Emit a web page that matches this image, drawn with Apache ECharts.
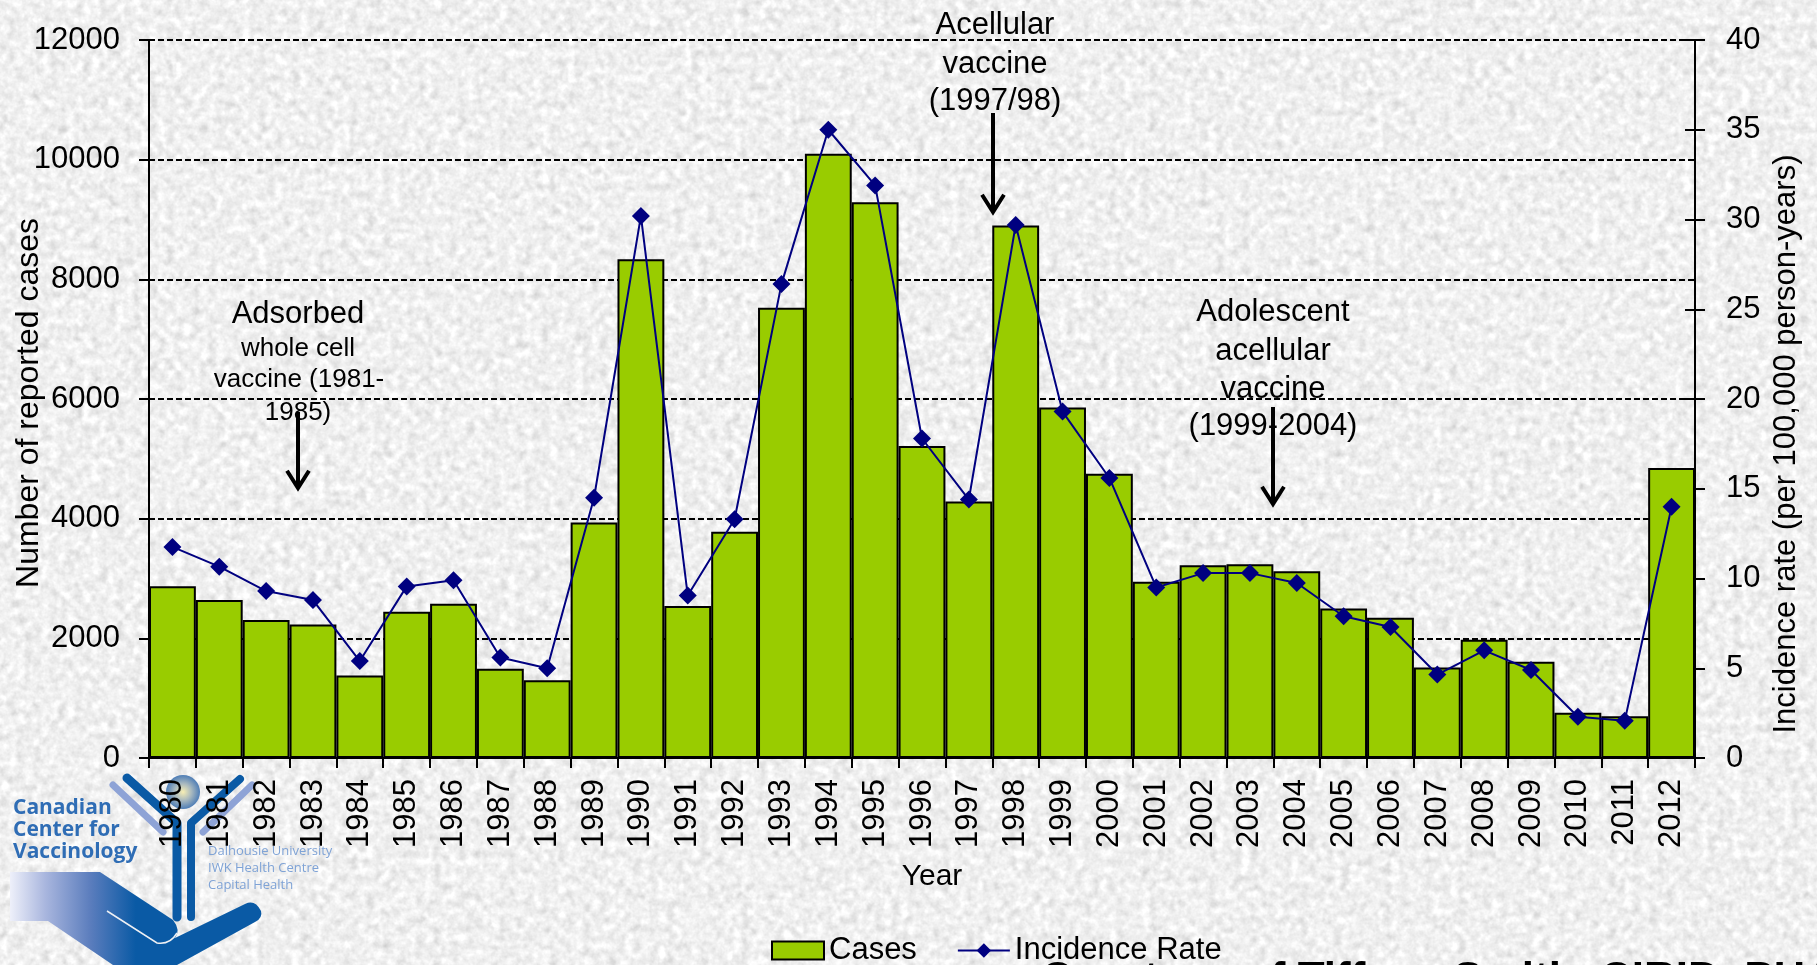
<!DOCTYPE html>
<html><head><meta charset="utf-8">
<style>
html,body{margin:0;padding:0;width:1817px;height:965px;overflow:hidden;background-color:#ececec;}
#bg{position:absolute;left:0;top:0;}
#chart{position:absolute;left:0;top:0;width:1817px;height:965px;}
</style>
<script src="https://cdn.jsdelivr.net/npm/echarts@6/dist/echarts.min.js"></script>
</head><body>
<svg id="bg" width="1817" height="965" xmlns="http://www.w3.org/2000/svg">
<filter id="speckle" x="0" y="0" width="100%" height="100%" color-interpolation-filters="sRGB">
<feTurbulence type="fractalNoise" baseFrequency="0.12" numOctaves="3" seed="7"/>
<feColorMatrix type="matrix" values="0.17 0.17 0 0 0.77  0.17 0.17 0 0 0.77  0.17 0.17 0 0 0.77  0 0 0 0 1"/>
</filter>
<rect width="1817" height="965" filter="url(#speckle)"/>
</svg>
<div id="chart"></div>
<script>
const years = ['1980','1981','1982','1983','1984','1985','1986','1987','1988','1989','1990','1991','1992','1993','1994','1995','1996','1997','1998','1999','2000','2001','2002','2003','2004','2005','2006','2007','2008','2009','2010','2011','2012'];
const cases = [2870,2640,2307,2230,1377,2443,2579,1493,1300,3936,8337,2540,3781,7523,10100,9290,5216,4285,8900,5856,4750,2947,3220,3238,3120,2500,2346,1512,1978,1610,756,698,4847];
const incidenceRate = [11.76,10.66,9.3,8.8,5.4,9.56,9.9,5.6,5.0,14.5,30.2,9.05,13.3,26.4,35.0,31.9,17.8,14.4,29.7,19.3,15.6,9.5,10.3,10.3,9.75,7.9,7.3,4.65,6.0,4.9,2.3,2.07,14.0];

const FONT = '"Liberation Sans", Arial, sans-serif';
const BLUE = '#0a5aa5';

echarts.graphic.registerShape('logoHand', echarts.graphic.extendPath('M10 872 L100 872 L173 920 Q181 930 175 938 L245 904 Q255 899 261 911 Q263 918 255 922 L177 965 L113 965 L48 921 L10 921 Z'));
echarts.graphic.registerShape('logoSlit', echarts.graphic.extendPath('M107 911 L157 943 Q170 945 177 933'));

function label(text, x, y, size) {
  return {type:'text', z:50, x:x, y:y+2, style:{text:text, fill:'#000', font:size+'px '+FONT, align:'center', verticalAlign:'middle'}};
}
function logoText(text, x, y, font, color) {
  return {type:'text', z:-2, x:x, y:y, style:{text:text, fill:color, font:font, verticalAlign:'middle'}};
}
function arrow(x, y0, y1, wing) {
  return [
    {type:'line', z:60, shape:{x1:x,y1:y0,x2:x,y2:y1-2}, style:{stroke:'#000',lineWidth:4}},
    {type:'polyline', z:60, shape:{points:[[x-wing,y1-wing*1.75],[x,y1-2],[x+wing,y1-wing*1.75]]}, style:{stroke:'#000',lineWidth:4,fill:null}}
  ];
}
const handGrad = {type:'linear',x:0,y:0,x2:1,y2:0,colorStops:[{offset:0,color:'#eef0fa'},{offset:0.14,color:'#a9b6de'},{offset:0.32,color:'#5b7dbd'},{offset:0.5,color:BLUE},{offset:1,color:BLUE}]};
const logo = [
  {type:'logoHand', z:-5, style:{fill:handGrad}},
  {type:'logoSlit', z:-4, style:{stroke:'#eef0f4',lineWidth:1.5,fill:null}},
  {type:'polyline', z:-4, shape:{points:[[113,785],[163,832]]}, style:{stroke:'#8ea3d6',lineWidth:7,lineCap:'round'}},
  {type:'polyline', z:-4, shape:{points:[[252,785],[203,832]]}, style:{stroke:'#8ea3d6',lineWidth:7,lineCap:'round'}},
  {type:'circle', z:-4, shape:{cx:183,cy:792,r:17}, style:{fill:{type:'radial',x:0.5,y:0.5,r:0.55,colorStops:[{offset:0,color:'#f7eeb4'},{offset:0.45,color:'#a9b9bf'},{offset:1,color:'#3d72b4'}]}}},
  {type:'polyline', z:-3, shape:{points:[[127,778],[177,823],[177,917]]}, style:{stroke:BLUE,lineWidth:9,lineCap:'round',lineJoin:'round',fill:null}},
  {type:'polyline', z:-3, shape:{points:[[240,779],[191,823],[191,917]]}, style:{stroke:BLUE,lineWidth:8,lineCap:'round',lineJoin:'round',fill:null}},
  logoText('Canadian',13,808,'bold 21px "Open Sans"','#2f6db5'),
  logoText('Center for',13,830,'bold 21px "Open Sans"','#2f6db5'),
  logoText('Vaccinology',13,852,'bold 21px "Open Sans"','#2f6db5'),
  logoText('Dalhousie University',208,851,'13px "Open Sans"','#7fa3d6'),
  logoText('IWK Health Centre',208,868,'13px "Open Sans"','#7fa3d6'),
  logoText('Capital Health',208,885,'13px "Open Sans"','#7fa3d6')
];
const notes = [
  label('Adsorbed',298,312,31), label('whole cell',298,347,26), label('vaccine (1981-',299,378,26), label('1985)',298,411,26),
  label('Acellular',995,23,31), label('vaccine',995,62,31), label('(1997/98)',995,99,31),
  label('Adolescent',1273,310,31), label('acellular',1273,349,31), label('vaccine',1273,387,31), label('(1999-2004)',1273,424,31),
  ...arrow(298,412,490,11), ...arrow(993,113,214,11), ...arrow(1273,407,506,11),
  {type:'text', z:50, x:1041, y:981, style:{text:'Courtesy of Tiffany Smith, CIRID, PHAC', fill:'#000', font:'bold 44px '+FONT, verticalAlign:'middle'}}
];

const chart = echarts.init(document.getElementById('chart'), null, {renderer:'canvas'});
chart.setOption({
  backgroundColor:'transparent',
  animation:false,
  textStyle:{fontFamily:FONT},
  grid:{left:149,right:122,top:40,bottom:207,containLabel:false,outerBoundsMode:'none'},
  legend:{
    left:766, top:930, itemWidth:52, itemHeight:18, itemGap:40,
    textStyle:{fontSize:31,color:'#000',fontFamily:FONT},
    data:[{name:'Cases',icon:'rect'},{name:'Incidence Rate'}]
  },
  xAxis:{
    type:'category', data:years, name:'Year', nameLocation:'middle', nameGap:119, nameMoveOverlap:false,
    nameTextStyle:{fontSize:30,color:'#000',padding:[0,0,0,20],verticalAlign:'middle'},
    axisLine:{lineStyle:{color:'#000',width:2}},
    axisTick:{show:true,length:10,lineStyle:{color:'#000',width:2},alignWithLabel:false},
    axisLabel:{rotate:90,fontSize:31,color:'#000',margin:21,interval:0,verticalAlign:'middle'},
    splitLine:{show:false}
  },
  yAxis:[
    {type:'value',min:0,max:12000,interval:2000,position:'left',
     name:'Number of reported cases',nameLocation:'middle',nameGap:120,nameMoveOverlap:false,
     nameTextStyle:{fontSize:32,color:'#000',padding:[0,8,0,0],verticalAlign:'middle'},
     axisLine:{show:true,lineStyle:{color:'#000',width:2}},
     axisTick:{show:true,length:10,lineStyle:{color:'#000',width:2}},
     axisLabel:{fontSize:31,color:'#000',margin:29,padding:[4,0,0,0],formatter:function(v){return String(v);}},
     splitLine:{show:true,lineStyle:{color:'#000',width:2,type:[6,3]}}},
    {type:'value',min:0,max:40,interval:5,position:'right',
     name:'Incidence rate (per 100,000 person-years)',nameLocation:'middle',nameGap:91,nameMoveOverlap:false,
     nameTextStyle:{fontSize:31,color:'#000',padding:[0,90,0,0],verticalAlign:'middle'},
     axisLine:{show:true,lineStyle:{color:'#000',width:2}},
     axisTick:{show:true,length:10,lineStyle:{color:'#000',width:2}},
     axisLabel:{fontSize:31,color:'#000',margin:31,padding:[4,0,0,0]},
     splitLine:{show:false}},
    {type:'value',min:0,max:40,interval:5,position:'right',
     axisLine:{show:false},
     axisTick:{show:true,inside:true,length:10,lineStyle:{color:'#000',width:2}},
     axisLabel:{show:false},
     splitLine:{show:false}}
  ],
  series:[
    {name:'Cases',type:'bar',data:cases,yAxisIndex:0,barCategoryGap:'0%',barWidth:'100%',
     itemStyle:{color:'#99CC00',borderColor:'#000',borderWidth:2}},
    {name:'Incidence Rate',type:'line',data:incidenceRate,yAxisIndex:1,z:5,
     symbol:'diamond',symbolSize:18,showAllSymbol:true,
     lineStyle:{color:'#000080',width:2},itemStyle:{color:'#000080'}}
  ],
  graphic:{elements:[...logo,...notes]}
});
</script>
</body></html>
